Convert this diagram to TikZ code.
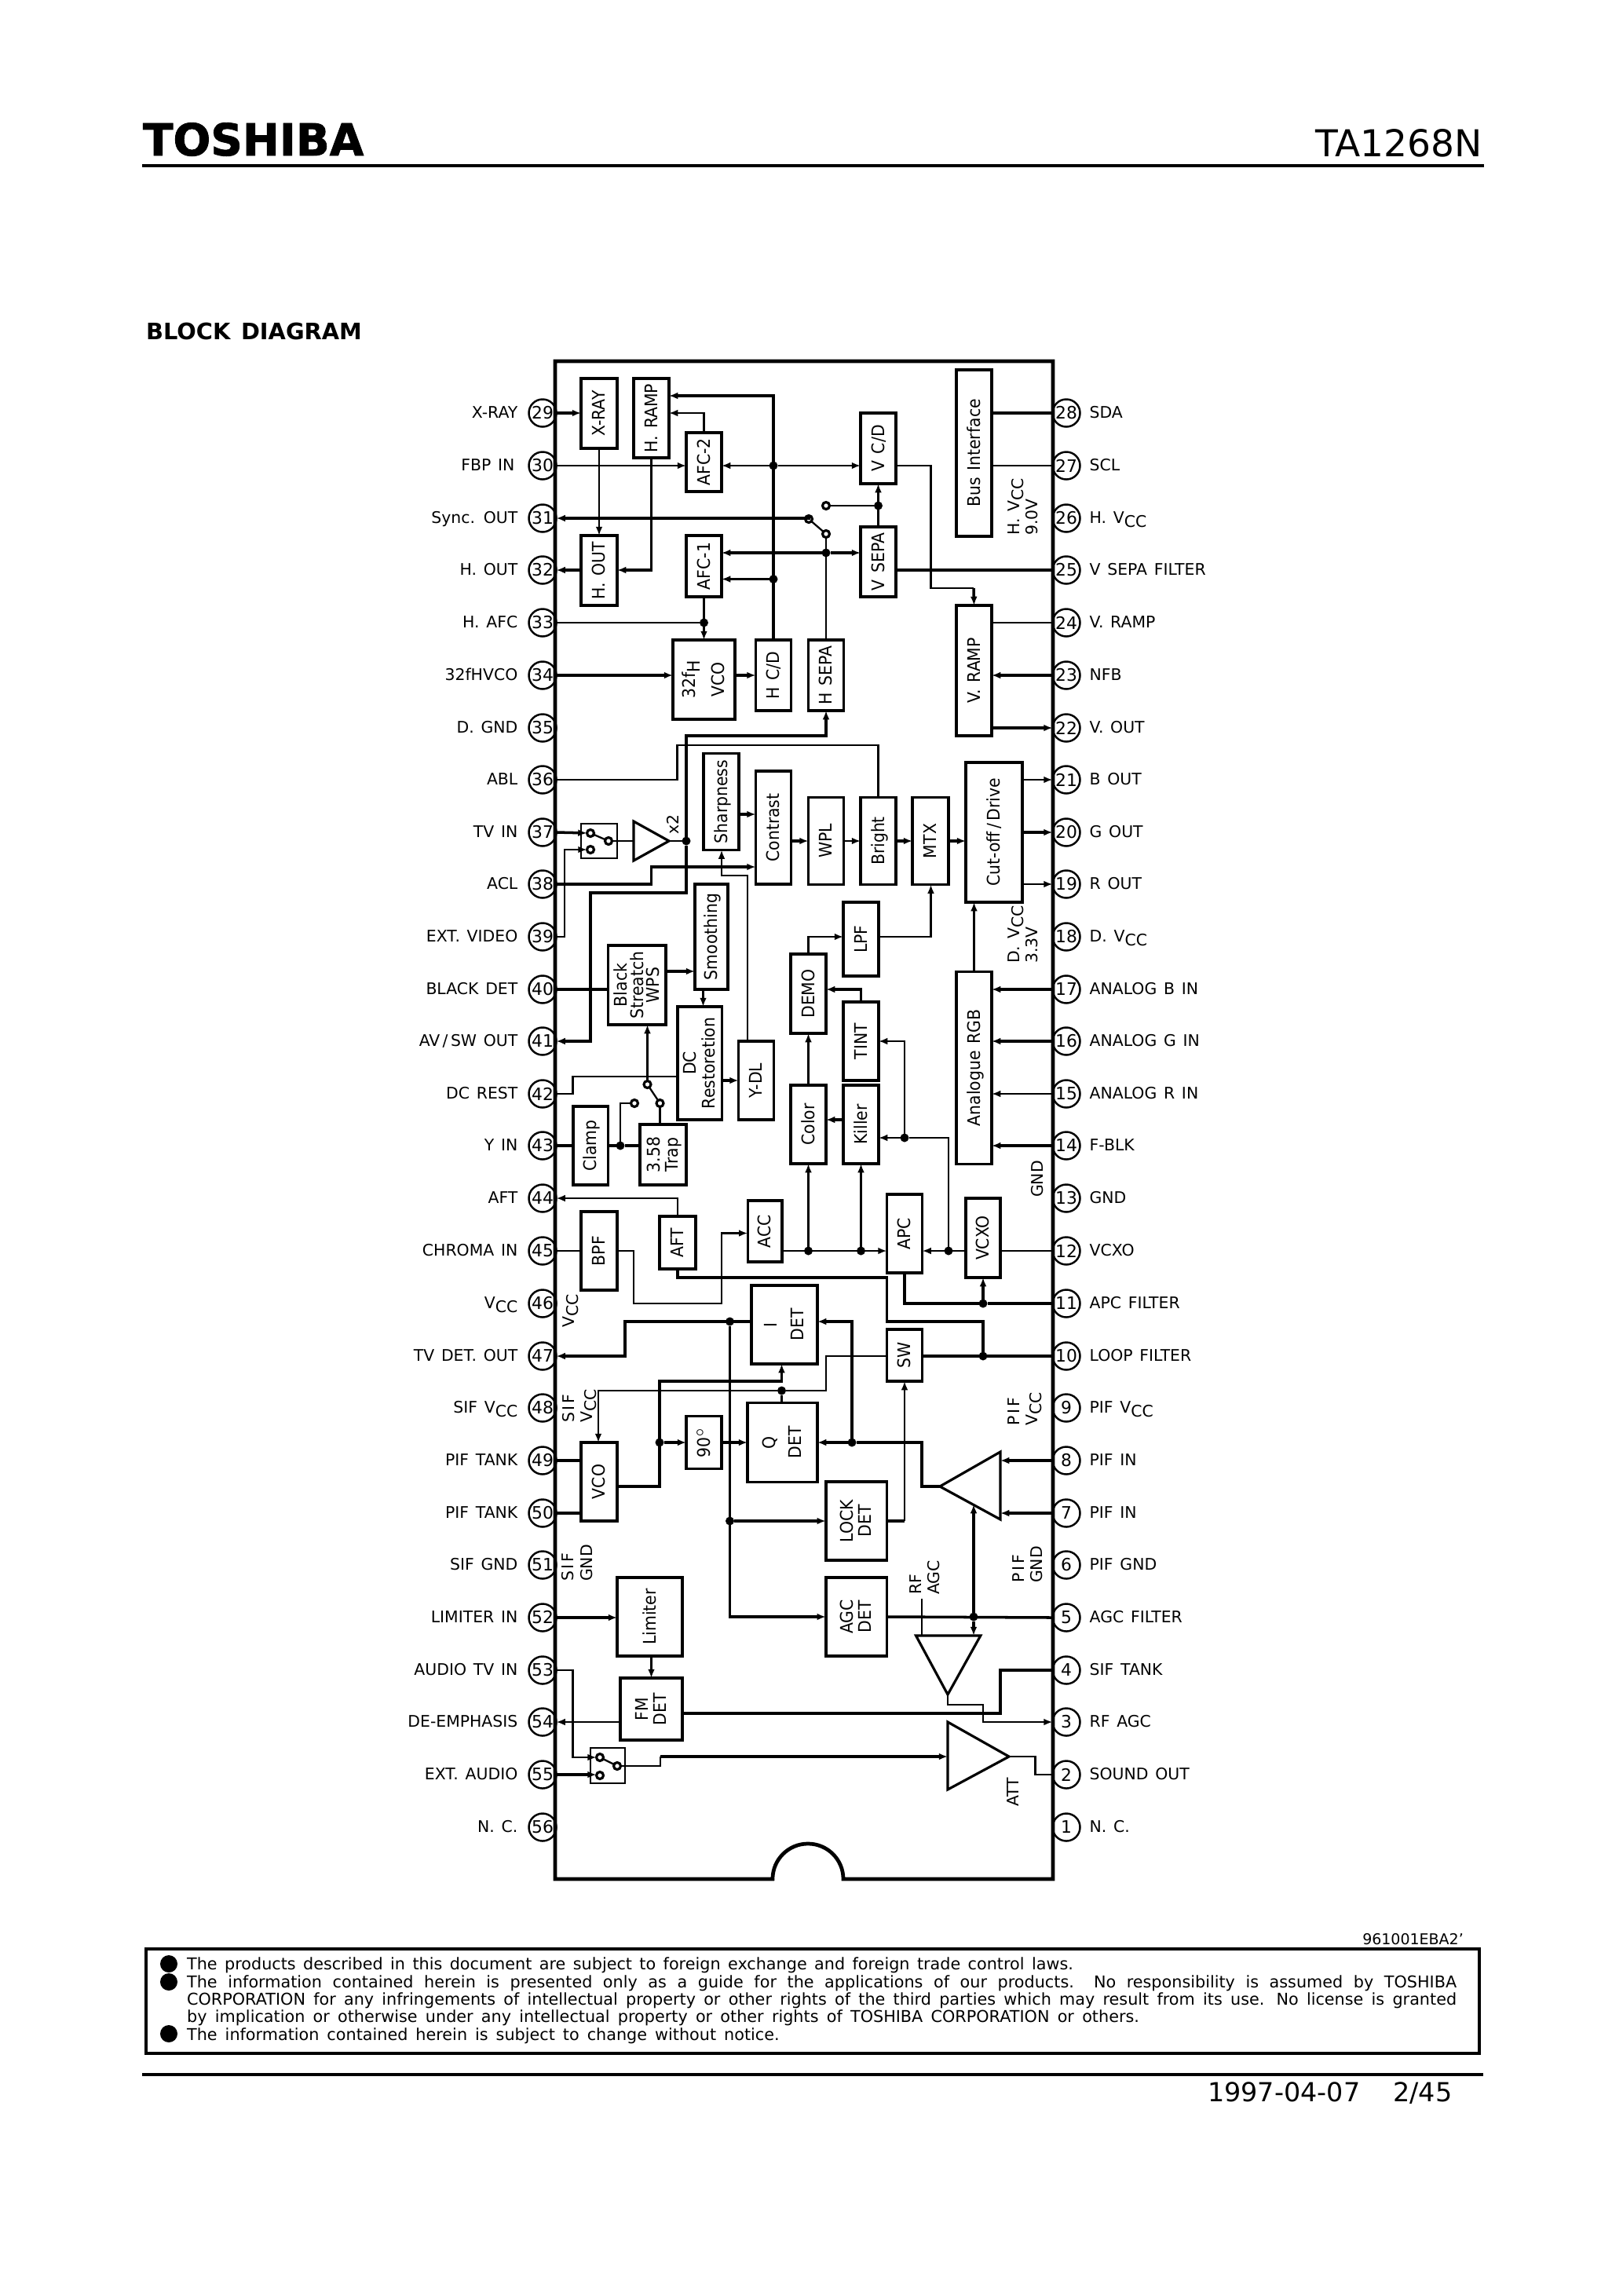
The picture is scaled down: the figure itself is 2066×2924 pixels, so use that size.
\documentclass[tikz,border=0pt]{standalone}
\usepackage{fontspec}
\usepackage{graphicx}
\setmainfont[WordSpace=1.35]{DejaVu Sans}
\newfontfamily\widefont[LetterSpace=14,WordSpace=1.35]{DejaVu Sans}
\newfontfamily\logofont[FakeBold=1.6]{DejaVu Sans Bold}
\usetikzlibrary{arrows.meta, positioning, calc}
\newcommand{\rt}[1]{\hspace*{1.6pt}\rotatebox{90}{\scalebox{.92}[1]{\renewcommand{\arraystretch}{.9}\begin{tabular}{@{}c@{}}#1\end{tabular}}}}
\newcommand{\vsub}[1]{V\raisebox{-.45ex}{#1}}

\begin{document}
\begin{tikzpicture}[
    x=0.01cm, y=-0.01cm,
    >={Latex[length=3.2pt,width=2.5pt]},
    line width=0.65pt,
    hvy/.style={line width=1pt},
    blk/.style 2 args={draw, line width=1pt, minimum width=#1*0.01cm,
        minimum height=#2*0.01cm, inner sep=0pt, outer sep=0pt, font=\fontsize{6.3}{7}\selectfont},
    pinnum/.style={circle, draw, line width=0.7pt, minimum size=0.35cm, inner sep=0pt,
        outer sep=0pt, font=\fontsize{6.2}{7}\selectfont},
    labl/.style={anchor=east, inner sep=0pt, text height=5pt, text depth=1.5pt,
        font=\fontsize{5.8}{7}\selectfont},
    labr/.style={anchor=west, inner sep=0pt, text height=5pt, text depth=1.5pt,
        font=\fontsize{5.8}{7}\selectfont},
    vlab/.style={rotate=90, anchor=west, align=left, inner sep=0pt,
        font=\fontsize{5.8}{6.6}\selectfont},
    jdot/.style={circle, fill=black, minimum size=0.11cm, inner sep=0pt, outer sep=0pt},
    swc/.style={circle, draw, fill=white, line width=0.9pt, minimum size=0.09cm,
        inner sep=0pt, outer sep=0pt},
    bullet/.style={circle, fill=black, minimum size=0.22cm, inner sep=0pt},
    note/.style={anchor=base west, inner sep=0pt, font=\fontsize{5.9}{7}\selectfont},
    tri/.style={line width=0.9pt, line join=miter}
]
    \useasboundingbox (0,0) rectangle (2066,2924);

    % page head
    \node[anchor=base west, inner sep=0pt, font=\fontsize{16}{18}\logofont] (logo) at (181,198) {TOSHIBA};
    \node[anchor=base east, inner sep=0pt, font=\fontsize{13.4}{16}\selectfont] (partno) at (1889,199) {TA1268N};
    \draw[line width=1pt] (181,211) -- (1890,211);
    \node[anchor=base west, inner sep=0pt, font=\fontsize{8.2}{10}\selectfont\bfseries] (title) at (185,432) {BLOCK DIAGRAM};

    % package
    \draw[line width=1.35pt] (707,460) -- (1341,460) -- (1341,2393) -- (1074,2393)
        arc[start angle=0, end angle=180, radius=0.45cm] -- (707,2393) -- cycle;

    % left pins
    \node[pinnum] (p29) at (691,526) {29}; \node[labl, left=0.13cm of p29] (l29) {X-RAY};
    \node[pinnum] (p30) at (691,593) {30}; \node[labl, left=0.17cm of p30] (l30) {FBP IN};
    \node[pinnum] (p31) at (691,660) {31}; \node[labl, left=0.13cm of p31] (l31) {Sync. OUT};
    \node[pinnum] (p32) at (691,726) {32}; \node[labl, left=0.13cm of p32] (l32) {H. OUT};
    \node[pinnum] (p33) at (691,793) {33}; \node[labl, left=0.13cm of p33] (l33) {H. AFC};
    \node[pinnum] (p34) at (691,860) {34}; \node[labl, left=0.13cm of p34] (l34) {32fHVCO};
    \node[pinnum] (p35) at (691,927) {35}; \node[labl, left=0.13cm of p35] (l35) {D. GND};
    \node[pinnum] (p36) at (691,993) {36}; \node[labl, left=0.13cm of p36] (l36) {ABL};
    \node[pinnum] (p37) at (691,1060) {37}; \node[labl, left=0.13cm of p37] (l37) {TV IN};
    \node[pinnum] (p38) at (691,1126) {38}; \node[labl, left=0.13cm of p38] (l38) {ACL};
    \node[pinnum] (p39) at (691,1193) {39}; \node[labl, left=0.13cm of p39] (l39) {EXT. VIDEO};
    \node[pinnum] (p40) at (691,1260) {40}; \node[labl, left=0.13cm of p40] (l40) {BLACK DET};
    \node[pinnum] (p41) at (691,1326) {41}; \node[labl, left=0.13cm of p41] (l41) {AV\,/\,SW OUT};
    \node[pinnum] (p42) at (691,1393) {42}; \node[labl, left=0.13cm of p42] (l42) {DC REST};
    \node[pinnum] (p43) at (691,1459) {43}; \node[labl, left=0.13cm of p43] (l43) {Y IN};
    \node[pinnum] (p44) at (691,1526) {44}; \node[labl, left=0.13cm of p44] (l44) {AFT};
    \node[pinnum] (p45) at (691,1593) {45}; \node[labl, left=0.13cm of p45] (l45) {CHROMA IN};
    \node[pinnum] (p46) at (691,1660) {46}; \node[labl, left=0.13cm of p46] (l46) {\vsub{CC}};
    \node[pinnum] (p47) at (691,1727) {47}; \node[labl, left=0.13cm of p47] (l47) {TV DET. OUT};
    \node[pinnum] (p48) at (691,1793) {48}; \node[labl, left=0.13cm of p48] (l48) {SIF \vsub{CC}};
    \node[pinnum] (p49) at (691,1860) {49}; \node[labl, left=0.13cm of p49] (l49) {PIF TANK};
    \node[pinnum] (p50) at (691,1927) {50}; \node[labl, left=0.13cm of p50] (l50) {PIF TANK};
    \node[pinnum] (p51) at (691,1993) {51}; \node[labl, left=0.13cm of p51] (l51) {SIF GND};
    \node[pinnum] (p52) at (691,2060) {52}; \node[labl, left=0.13cm of p52] (l52) {LIMITER IN};
    \node[pinnum] (p53) at (691,2127) {53}; \node[labl, left=0.13cm of p53] (l53) {AUDIO TV IN};
    \node[pinnum] (p54) at (691,2193) {54}; \node[labl, left=0.13cm of p54] (l54) {DE-EMPHASIS};
    \node[pinnum] (p55) at (691,2260) {55}; \node[labl, left=0.13cm of p55] (l55) {EXT. AUDIO};
    \node[pinnum] (p56) at (691,2327) {56}; \node[labl, left=0.13cm of p56] (l56) {N. C.};

    % right pins
    \node[pinnum] (p28) at (1358,526) {28}; \node[labr, right=0.11cm of p28] (l28) {SDA};
    \node[pinnum] (p27) at (1358,593) {27}; \node[labr, right=0.11cm of p27] (l27) {SCL};
    \node[pinnum] (p26) at (1358,660) {26}; \node[labr, right=0.11cm of p26] (l26) {H. \vsub{CC}};
    \node[pinnum] (p25) at (1358,726) {25}; \node[labr, right=0.11cm of p25] (l25) {V SEPA FILTER};
    \node[pinnum] (p24) at (1358,793) {24}; \node[labr, right=0.11cm of p24] (l24) {V. RAMP};
    \node[pinnum] (p23) at (1358,860) {23}; \node[labr, right=0.11cm of p23] (l23) {NFB};
    \node[pinnum] (p22) at (1358,927) {22}; \node[labr, right=0.11cm of p22] (l22) {V. OUT};
    \node[pinnum] (p21) at (1358,993) {21}; \node[labr, right=0.11cm of p21] (l21) {B OUT};
    \node[pinnum] (p20) at (1358,1060) {20}; \node[labr, right=0.11cm of p20] (l20) {G OUT};
    \node[pinnum] (p19) at (1358,1126) {19}; \node[labr, right=0.11cm of p19] (l19) {R OUT};
    \node[pinnum] (p18) at (1358,1193) {18}; \node[labr, right=0.11cm of p18] (l18) {D. \vsub{CC}};
    \node[pinnum] (p17) at (1358,1260) {17}; \node[labr, right=0.11cm of p17] (l17) {ANALOG B IN};
    \node[pinnum] (p16) at (1358,1326) {16}; \node[labr, right=0.11cm of p16] (l16) {ANALOG G IN};
    \node[pinnum] (p15) at (1358,1393) {15}; \node[labr, right=0.11cm of p15] (l15) {ANALOG R IN};
    \node[pinnum] (p14) at (1358,1459) {14}; \node[labr, right=0.11cm of p14] (l14) {F-BLK};
    \node[pinnum] (p13) at (1358,1526) {13}; \node[labr, right=0.11cm of p13] (l13) {GND};
    \node[pinnum] (p12) at (1358,1593) {12}; \node[labr, right=0.11cm of p12] (l12) {VCXO};
    \node[pinnum] (p11) at (1358,1660) {11}; \node[labr, right=0.11cm of p11] (l11) {APC FILTER};
    \node[pinnum] (p10) at (1358,1727) {10}; \node[labr, right=0.11cm of p10] (l10) {LOOP FILTER};
    \node[pinnum] (p9) at (1358,1793) {9}; \node[labr, right=0.11cm of p9] (l9) {PIF \vsub{CC}};
    \node[pinnum] (p8) at (1358,1860) {8}; \node[labr, right=0.11cm of p8] (l8) {PIF IN};
    \node[pinnum] (p7) at (1358,1927) {7}; \node[labr, right=0.11cm of p7] (l7) {PIF IN};
    \node[pinnum] (p6) at (1358,1993) {6}; \node[labr, right=0.11cm of p6] (l6) {PIF GND};
    \node[pinnum] (p5) at (1358,2060) {5}; \node[labr, right=0.11cm of p5] (l5) {AGC FILTER};
    \node[pinnum] (p4) at (1358,2127) {4}; \node[labr, right=0.11cm of p4] (l4) {SIF TANK};
    \node[pinnum] (p3) at (1358,2193) {3}; \node[labr, right=0.11cm of p3] (l3) {RF AGC};
    \node[pinnum] (p2) at (1358,2260) {2}; \node[labr, right=0.11cm of p2] (l2) {SOUND OUT};
    \node[pinnum] (p1) at (1358,2327) {1}; \node[labr, right=0.11cm of p1] (l1) {N. C.};

    % blocks
    \node[blk={46}{89}] (xray) at (763,526.5) {\rt{X-RAY}};
    \node[blk={45}{101}] (hramp) at (829.5,532.5) {\rt{H. RAMP}};
    \node[blk={45}{75}] (afcb) at (896.5,588.5) {\rt{AFC-2}};
    \node[blk={45}{90}] (vcd) at (1118.5,571) {\rt{V C/D}};
    \node[blk={46}{89}] (hout) at (763,726.5) {\rt{H. OUT}};
    \node[blk={45}{78}] (afca) at (896.5,721) {\rt{AFC-1}};
    \node[blk={45}{89}] (vsepa) at (1118.5,715.5) {\rt{V SEPA}};
    \node[blk={79}{101}] (hvco) at (896.5,865.5) {\rt{32f\raisebox{-.45ex}{H}\\[4pt]VCO}};
    \node[blk={45}{90}] (hcd) at (985,860) {\rt{H C/D}};
    \node[blk={45}{90}] (hsepa) at (1052,860) {\rt{H SEPA}};
    \node[blk={45}{212}] (bus) at (1240.5,577) {\rt{Bus Interface}};
    \node[blk={45}{166}] (vramp) at (1240.5,854) {\rt{V. RAMP}};
    \node[blk={45}{123}] (sharp) at (918.5,1021) {\rt{Sharpness}};
    \node[blk={45}{144}] (contrast) at (985,1054) {\rt{Contrast}};
    \node[blk={45}{111}] (wpl) at (1052,1071) {\rt{WPL}};
    \node[blk={45}{111}] (bright) at (1118.5,1071) {\rt{Bright}};
    \node[blk={46}{111}] (mtx) at (1185,1071) {\rt{MTX}};
    \node[blk={72}{178}] (cutoff) at (1266,1060) {\rt{Cut-off\,/\,Drive}};
    \node[blk={45}{94}] (lpf) at (1096.5,1196) {\rt{LPF}};
    \node[blk={45}{101}] (demo) at (1029.5,1265.5) {\rt{DEMO}};
    \node[blk={45}{100}] (tint) at (1096.5,1326) {\rt{TINT}};
    \node[blk={45}{100}] (color) at (1029.5,1432) {\rt{Color}};
    \node[blk={45}{100}] (killer) at (1096.5,1432) {\rt{Killer}};
    \node[blk={45}{245}] (argb) at (1240.5,1360) {\rt{Analogue RGB}};
    \node[blk={42}{134}] (smooth) at (906,1193) {\rt{Smoothing}};
    \node[blk={73.5}{101}] (black) at (811,1254.5) {\rt{Black\\[-.8pt]Streatch\\[-.8pt]WPS}};
    \node[blk={56.5}{144}] (dcrest) at (891,1354) {\rt{DC\\Restoretion}};
    \node[blk={45}{100}] (ydl) at (963,1376) {\rt{Y-DL}};
    \node[blk={44.5}{100}] (clamp) at (752,1459) {\rt{Clamp}};
    \node[blk={59}{77}] (trap) at (844.5,1470.5) {\rt{3.58\\Trap}};
    \node[blk={46}{100}] (bpf) at (763,1593) {\rt{BPF}};
    \node[blk={46}{67}] (aft) at (863,1582.5) {\rt{AFT}};
    \node[blk={43.5}{78}] (acc) at (974,1568) {\rt{ACC}};
    \node[blk={45}{100}] (apc) at (1152,1571) {\rt{APC}};
    \node[blk={44}{101}] (vcxo) at (1252,1576.5) {\rt{VCXO}};
    \node[blk={84}{100}] (idet) at (999,1687) {\rt{I\\[3pt]DET}};
    \node[blk={45}{66}] (sw) at (1152,1726) {\rt{SW}};
    \node[blk={45}{67}] (shift) at (896.5,1837) {\rt{90$^\circ$}};
    \node[blk={89}{101}] (qdet) at (996.5,1837) {\rt{Q\\[3pt]DET}};
    \node[blk={46}{100}] (pifvco) at (763,1887) {\rt{VCO}};
    \node[blk={77.5}{100}] (lock) at (1090.5,1937) {\rt{LOCK\\DET}};
    \node[blk={83}{100}] (limiter) at (827.5,2059) {\rt{Limiter}};
    \node[blk={77.5}{100}] (agc) at (1090.5,2059) {\rt{AGC\\DET}};
    \node[blk={79}{79}] (fm) at (829.5,2176.5) {\rt{FM\\DET}};

    % switches
    \node[blk={46}{44}, line width=0.8pt] (swbox) at (763,1071) {};
    \node[swc] (swa) at (752,1061) {};
    \node[swc] (swb) at (775,1071) {};
    \node[swc] (swd) at (752,1082) {};
    \draw (swa) -- (swb);
    \node[blk={44}{45}, line width=0.8pt] (aubox) at (774,2248.5) {};
    \node[swc] (aua) at (764,2238) {};
    \node[swc] (aub) at (786,2249) {};
    \node[swc] (aud) at (764,2261) {};
    \draw (aua) -- (aub);
    \node[swc] (syna) at (1030,661) {};
    \node[swc] (synb) at (1052,680) {};
    \node[swc] (sync) at (1052,644) {};
    \draw (syna) -- (synb);
    \node[swc] (yca) at (824.5,1381) {};
    \node[swc] (ycb) at (840.5,1405) {};
    \node[swc] (ycc) at (808,1405) {};
    \draw (yca) -- (ycb);

    % amplifiers
    \coordinate (xtip) at (852,1071);
    \coordinate (xin) at (807,1071);
    \draw[tri] (807,1046) -- (xtip) -- (807,1096) -- cycle;
    \coordinate (piftip) at (1197,1893);
    \draw[tri] (1274,1849) -- (piftip) -- (1274,1935) -- cycle;
    \coordinate (rftip) at (1207,2158);
    \draw[tri] (1166.5,2083) -- (1248.8,2083) -- (rftip) -- cycle;
    \coordinate (attin) at (1207,2237);
    \coordinate (atttip) at (1285,2237);
    \draw[tri] (1207,2193) -- (atttip) -- (1207,2279) -- cycle;

    % junction dots
    \node[jdot] (ja) at (985,593) {};
    \node[jdot] (jb) at (985,737.5) {};
    \node[jdot] (jc) at (1118.5,644) {};
    \node[jdot] (jd) at (1052,704) {};
    \node[jdot] (je) at (896.5,793) {};
    \node[jdot] (jf) at (874,1071) {};
    \node[jdot] (jg) at (790,1459) {};
    \node[jdot] (jh) at (1152,1449) {};
    \node[jdot] (ji) at (1029.5,1593) {};
    \node[jdot] (jj) at (1096.5,1593) {};
    \node[jdot] (jk) at (1208,1593) {};
    \node[jdot] (jl) at (1252,1660) {};
    \node[jdot] (jm) at (1252,1727) {};
    \node[jdot] (jn) at (929.5,1683) {};
    \node[jdot] (jo) at (1085,1837) {};
    \node[jdot] (jp) at (995.5,1771) {};
    \node[jdot] (jq) at (840,1837) {};
    \node[jdot] (jr) at (929.5,1937) {};
    \node[jdot] (js) at (1240,2059) {};

    % top section
    \draw[hvy,->] (p29.east) -- (p29.east -| xray.west);
    \draw[->] (xray.south) -- (hout.north);
    \draw[->] (p30.east) -- (p30.east -| afcb.west);
    \draw[->] (ja) -- (ja -| afcb.east);
    \draw[->] (ja) -- (ja -| vcd.west);
    \draw[hvy,->] (hcd.north) -- (985,504) -- (hramp.east |- 0,504);
    \draw[->] (afcb.north) |- (hramp.east |- 0,526);
    \draw[hvy,->] (hramp.south) |- (hout.east |- p32);
    \draw[hvy,->] (hout.west |- p32) -- (p32.east);
    \draw[hvy,->] (syna) -- (syna |- p31) -- (p31.east);
    \draw (sync) -- (jc);
    \draw[hvy,->] (vsepa.north) -- (vsepa.north |- vcd.south);
    \draw (synb) -- (hsepa.north);
    \draw[hvy,->] (jd) -- (jd -| afca.east);
    \draw[hvy,->] (jd) -- (jd -| vsepa.west);
    \draw[hvy,->] (jb) -- (jb -| afca.east);
    \draw[->] (afca.south) -- (hvco.north);
    \draw (p33.east) -- (je);
    \draw[hvy,->] (p34.east) -- (hvco.west |- p34);
    \draw[hvy,->] (hvco.east |- hcd) -- (hcd.west);
    \draw[hvy,->] (jf) -- (874,937) -- (hsepa.south |- 0,937) -- (hsepa.south);
    \draw[hvy,->] (jf) -- (874,1137) -- (752,1137) -- (752,1326) -- (p41.east);
    \draw (p36.east) -| (862.5,949) -| (bright.north);
    \draw[hvy] (vsepa.east |- p25) -- (p25.west);
    \draw (vcd.east |- p27) -- (1185.5,593) -- (1185.5,749) -- (1240,749);
    \draw[hvy,->] (1240,749) -- (vramp.north);
    \draw[hvy] (bus.east |- p28) -- (p28.west);
    \draw (bus.east |- p27) -- (p27.west);
    \draw (vramp.east |- p24) -- (p24.west);
    \draw[hvy,->] (p23.west) -- (vramp.east |- p23);
    \draw[hvy,->] (vramp.east |- p22) -- (p22.west);

    % video section
    \draw[hvy,->] (p37.east) -- (swa);
    \draw[->] (p39.east) -- (719,1193) -- (719,1082) -- (swd);
    \draw (swb) -- (xin);
    \draw (xtip) -- (jf);
    \draw[hvy,->] (p38.east) -- (829.5,1126) -- (829.5,1104) -- (contrast.west |- 0,1104);
    \draw[hvy,->] (sharp.east |- 0,1037) -- (contrast.west |- 0,1037);
    \draw[hvy,->] (contrast.east |- wpl) -- (wpl.west);
    \draw[->] (wpl.east) -- (bright.west);
    \draw[hvy,->] (bright.east) -- (mtx.west);
    \draw[hvy,->] (mtx.east) -- (cutoff.west |- mtx);
    \draw[->] (cutoff.east |- p21) -- (p21.west);
    \draw[hvy,->] (cutoff.east |- p20) -- (p20.west);
    \draw[->] (cutoff.east |- p19) -- (p19.west);
    \draw[hvy,->] (argb.north) -- (cutoff.south -| argb.north);
    \draw[hvy,->] (p17.west) -- (argb.east |- p17);
    \draw[hvy,->] (p16.west) -- (argb.east |- p16);
    \draw[->] (p15.west) -- (argb.east |- p15);
    \draw[hvy,->] (p14.west) -- (argb.east |- p14);
    \draw[->] (ydl.north -| 952,0) -- (952,1115) -- (919,1115) -- (sharp.south -| 919,0);
    \draw[hvy,->] (black.east |- 0,1237) -- (smooth.west |- 0,1237);
    \draw[->] (smooth.south -| 895.5,0) -- (dcrest.north -| 895.5,0);
    \draw[hvy] (p40.east) -- (black.west |- p40);
    \draw[hvy,->] (dcrest.east |- ydl.west) -- (ydl.west);
    \draw (p42.east) -- (729.5,1393) -- (729.5,1371) -- (dcrest.west |- 0,1371);
    \draw[->] (yca) -- (yca |- black.south);
    \draw (ycb) -- (ycb |- trap.north);
    \draw (ycc) -- (790,1405) -- (jg);
    \draw[hvy] (p43.east) -- (clamp.west |- p43);
    \draw[hvy] (clamp.east) -- (jg) -- (jg -| trap.west);

    % chroma section
    \draw[->] (lpf.east |- p39) -- (1185.5,1193) -- (1185.5,1126.5);
    \draw[->] (demo.north) -- (1029.5,1193) -- (lpf.west |- p39);
    \draw[hvy,->] (tint.north) -- (1096.5,1260) -- (demo.east |- 0,1260);
    \draw[hvy,->] (color.north) -- (demo.south);
    \draw[hvy,->] (killer.west |- 0,1426) -- (color.east |- 0,1426);
    \draw[->] (jk) -- (1208,1449) -- (jh) -- (killer.east |- jh);
    \draw[->] (jh) -- (1152,1326) -- (tint.east);
    \draw[->] (acc.east |- p45) -- (apc.west |- p45);
    \draw[hvy,->] (ji) -- (color.south);
    \draw[->] (jj) -- (killer.south);
    \draw[->] (vcxo.west |- p12) -- (apc.east |- p12);
    \draw (vcxo.east |- p12) -- (p12.west);
    \draw[hvy] (apc.south) -- (1152,1660) -- (jl) -- (p11.west);
    \draw[hvy,->] (jl) -- (jl |- vcxo.south);
    \draw[->] (aft.north) -- (863,1526) -- (p44.east);
    \draw[hvy] (aft.south) -- (863,1627) -- (1129.5,1627) -- (1129.5,1683) -- (1252,1683) -- (jm);
    \draw (p45.east) -- (bpf.west |- p45);
    \draw[->] (bpf.east |- p45) -- (807,1593) -- (807,1660) -- (919,1660) -- (919,1570.5) -- (acc.west |- 0,1570.5);

    % PIF section
    \draw[hvy,->] (idet.west |- jn) -- (796,1683) -- (796,1727) -- (p47.east);
    \draw[hvy,->] (jn) -- (929.5,2059) -- (agc.west |- 0,2059);
    \draw[hvy,->] (jr) -- (lock.west |- jr);
    \draw[hvy,->] (jo) -- (1085,1683) -- (idet.east |- 0,1683);
    \draw[hvy,->] (piftip) -- (1174,1893) -- (1174,1837) -- (jo) -- (qdet.east |- jo);
    \draw[hvy] (sw.east |- jm) -- (p10.west);
    \draw (sw.west |- jm) -- (1052,1727) -- (1052,1771) -- (jp);
    \draw[->] (jp) -- (762,1771) -- (762,1837);
    \draw (qdet.north -| jp) -- (jp);
    \draw[hvy,->] (pifvco.east |- 0,1893) -- (840,1893) -- (840,1759) -- (995.5,1759) -- (995.5,1737);
    \draw[hvy,->] (jq) -- (shift.west);
    \draw[hvy,->] (shift.east) -- (qdet.west);
    \draw[hvy] (lock.east |- jr) -- (1152,1937);
    \draw[->] (1152,1937) -- (sw.south);
    \draw[hvy] (p49.east) -- (pifvco.west |- p49);
    \draw[hvy] (p50.east) -- (pifvco.west |- p50);
    \draw[hvy,->] (p8.west) -- (1274,1860);
    \draw[hvy,->] (p7.west) -- (1274,1927);
    \draw[hvy,->] (js) -- (1240,1916);
    \draw[hvy,->] (js) -- (1240,2083);
    \draw[hvy] (agc.east |- js) -- (p5.west);
    \coordinate (rfend) at (1174,2036);
    \draw (rfend) -- (1174,2083);

    % sound section
    \draw[->] (rftip) -- (1207,2171) -- (1252,2171) -- (1252,2193) -- (p3.west);
    \draw[hvy] (p4.west) -- (1274,2127) -- (1274,2182) -- (fm.east |- 0,2182);
    \draw[->] (fm.west |- p54) -- (p54.east);
    \draw[hvy,->] (limiter.south -| fm) -- (fm.north);
    \draw[hvy,->] (p52.east) -- (limiter.west |- p52);
    \draw[->] (p53.east) -- (729.5,2127) -- (729.5,2238) -- (aua);
    \draw[hvy,->] (p55.east) -- (aud.west |- p55);
    \draw (aub) -- (841,2249) -- (841,2237);
    \draw[hvy,->] (841,2237) -- (attin);
    \draw (atttip) -- (1318.5,2237) -- (1318.5,2260) -- (p2.west);

    % rotated texts inside the package
    \node[vlab] (thv) at (1303,683) {H. \vsub{CC}\\9.0V};
    \node[vlab] (tdv) at (1303,1228) {D. \vsub{CC}\\3.3V};
    \node[vlab] (tgnd) at (1321,1526) {GND};
    \node[vlab] (tvcc) at (727,1692) {\vsub{CC}};
    \node[vlab] (tsv) at (738,1813) {{\widefont SIF}\\\vsub{CC}};
    \node[vlab] (tpv) at (1305,1817) {{\widefont PIF}\\\vsub{CC}};
    \node[vlab] (tsg) at (735,2015) {{\widefont SIF}\\GND};
    \node[vlab] (tpg) at (1309,2017) {{\widefont PIF}\\GND};
    \node[vlab] (trf) at (1178,2032) {RF\\AGC};
    \node[vlab] (tatt) at (1290,2302) {ATT};
    \node[vlab] (txtwo) at (857,1064) {x2};

    % page foot
    \node[anchor=base east, inner sep=0pt, font=\fontsize{5.4}{7}\selectfont] (docno) at (1865,2476) {961001EBA2'};
    \draw[line width=1.35pt] (186,2482) rectangle (1884,2615);
    \node[bullet] (ba) at (215,2501) {};
    \node[bullet] (bb) at (215,2524) {};
    \node[bullet] (bc) at (215,2590) {};
    \node[note] (na) at (237,2508) {\makebox[11.28cm][s]{The products described in this document are subject to foreign exchange and foreign trade control laws.}};
    \node[note] (nb) at (237,2531) {\makebox[16.16cm][s]{The information contained herein is presented only as a guide for the applications of our products. No responsibility is assumed by TOSHIBA}};
    \node[note] (nc) at (237,2553) {\makebox[16.16cm][s]{CORPORATION for any infringements of intellectual property or other rights of the third parties which may result from its use. No license is granted}};
    \node[note] (nd) at (237,2575) {\makebox[12.12cm][s]{by implication or otherwise under any intellectual property or other rights of TOSHIBA CORPORATION or others.}};
    \node[note] (ne) at (237,2598) {\makebox[7.54cm][s]{The information contained herein is subject to change without notice.}};
    \draw[line width=1.1pt] (181,2642) -- (1889,2642);
    \node[anchor=base west, inner sep=0pt, font=\fontsize{9.5}{11}\selectfont] (pageno) at (1537,2676) {1997-04-07\hspace*{12pt}2/45};
\end{tikzpicture}
\end{document}
